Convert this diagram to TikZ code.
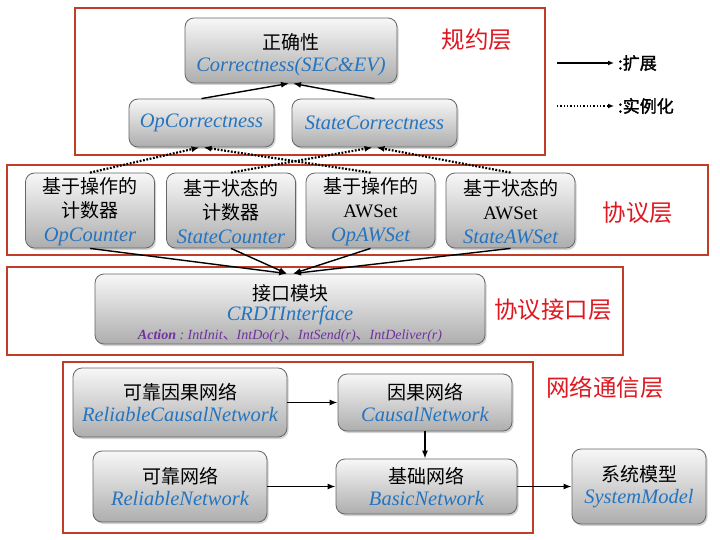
\documentclass[tikz,border=0pt]{standalone}
\usepackage{fontspec}
\setmainfont{Liberation Serif}
\newfontfamily\cjk{Noto Sans CJK SC}
\newfontfamily\cjkbold[FakeBold=1.6]{Noto Sans CJK SC}
\usepackage{xcolor}
\usetikzlibrary{positioning, calc, arrows.meta, shadows}
\definecolor{enblue}{RGB}{36,116,192}
\definecolor{actpurple}{RGB}{112,48,160}
\definecolor{layerred}{RGB}{192,62,40}
\definecolor{labelred}{RGB}{222,24,32}

\newcommand{\zh}[1]{{\cjk #1}}
\newcommand{\en}[1]{{\color{enblue}\fontsize{20.5}{24}\selectfont\itshape #1}}

\tikzset{
  box/.style={draw=black!60, line width=0.8pt, rounded corners=9pt,
    top color=black!3, bottom color=black!32,
    drop shadow={shadow xshift=1.5pt, shadow yshift=-2pt, opacity=0.35},
    align=center, inner sep=1pt, font=\fontsize{19}{24}\selectfont},
  layer/.style={draw=layerred, line width=1.6pt},
  layername/.style={text=labelred, font=\cjk\fontsize{23.5}{24}\selectfont},
  ext/.style={->, line width=1.4pt},
  inst/.style={->, line width=2.2pt, dash pattern=on 1.8pt off 1.6pt},
  legendtext/.style={right, inner sep=1pt, font=\cjkbold\fontsize{17}{18}\selectfont},
}

\begin{document}
\begin{tikzpicture}[x=1pt, y=-1pt, >={Latex[length=8pt, width=6pt]}]
\useasboundingbox (0,0) rectangle (720,540);

%% ── layer frames ─────────────────────────────────────────────────
\draw[layer] (75,8) rectangle (545,155);
\draw[layer] (7,165) rectangle (708,255);
\draw[layer] (7,267) rectangle (623,355);
\draw[layer] (63,362) rectangle (533,533);

\node[layername] (spec)  at (477,40)  {规约层};
\node[layername] (proto) at (638,213) {协议层};
\node[layername] (iface) at (553,310) {协议接口层};
\node[layername] (net)   at (605,388) {网络通信层};

%% ── specification layer ──────────────────────────────────────────
\node[box, minimum width=212pt, minimum height=65pt] (corr) at (291,50.5)
  {\rule{0pt}{25pt}\zh{正确性}\\[-2pt]\en{Correctness(SEC\&EV)}};
\node[box, minimum width=145pt, minimum height=48pt] (opcor) at (201.5,123) {\en{OpCorrectness}};
\node[box, minimum width=165pt, minimum height=48pt] (statecor) at (374.5,123) {\en{StateCorrectness}};

\draw[ext] (opcor.north) -- ([xshift=-2pt]corr.south);
\draw[ext] (statecor.north) -- ([xshift=2pt]corr.south);

%% ── legend ───────────────────────────────────────────────────────
\coordinate (lga) at (557,63);
\coordinate (lgb) at (614,63);
\coordinate (lgc) at (557,106);
\coordinate (lgd) at (614,106);
\draw[->, line width=1.3pt, >={Latex[length=6pt, width=5pt]}] (lga) -- (lgb);
\draw[->, line width=1.3pt, dotted, >={Latex[length=6pt, width=5pt]}] (lgc) -- (lgd);
\node[legendtext] (lgext)  at (lgb) {\,:扩展};
\node[legendtext] (lginst) at (lgd) {\,:实例化};

%% ── protocol layer ───────────────────────────────────────────────
\node[box, minimum width=129pt, minimum height=75pt] (opcnt) at (90,210.5)
  {\rule{0pt}{19pt}\zh{基于操作的}\\\zh{计数器}\\\en{OpCounter}};
\node[box, minimum width=129pt, minimum height=75pt] (statecnt) at (231,210.5)
  {\rule{0pt}{19pt}\zh{基于状态的}\\\zh{计数器}\\\en{StateCounter}};
\node[box, minimum width=129pt, minimum height=75pt] (opaws) at (370.5,210.5)
  {\rule{0pt}{19pt}\zh{基于操作的}\\AWSet\\\en{OpAWSet}};
\node[box, minimum width=129pt, minimum height=75pt] (stateaws) at (510.5,210.5)
  {\rule{0pt}{19pt}\zh{基于状态的}\\AWSet\\\en{StateAWSet}};

\draw[inst] (opcnt.north) -- ([xshift=-2pt]opcor.south);
\draw[inst] (opaws.north) -- ([xshift=2pt]opcor.south);
\draw[inst] (statecnt.north) -- ([xshift=-2pt]statecor.south);
\draw[inst] (stateaws.north) -- ([xshift=2pt]statecor.south);

%% ── interface layer ──────────────────────────────────────────────
\node[box, minimum width=390pt, minimum height=70pt] (crdt) at (290,309)
  {\rule{0pt}{24pt}\zh{接口模块}\\[-4pt]\en{CRDTInterface}\\[-5pt]
   {\color{actpurple}\fontsize{14}{16}\selectfont\itshape\textbf{Action}\ :\ IntInit\zh{、}IntDo(r)\zh{、}IntSend(r)\zh{、}IntDeliver(r)}};

\draw[ext] (opcnt.south) -- ([xshift=-3pt]crdt.north);
\draw[ext] (statecnt.south) -- ([xshift=-3pt]crdt.north);
\draw[ext] (opaws.south) -- ([xshift=3pt]crdt.north);
\draw[ext] (stateaws.south) -- ([xshift=3pt]crdt.north);

%% ── network layer ────────────────────────────────────────────────
\node[box, minimum width=214pt, minimum height=69pt] (rcn) at (180,402.5)
  {\zh{可靠因果网络}\\[-2pt]\en{ReliableCausalNetwork}};
\node[box, minimum width=174pt, minimum height=57pt] (cn) at (425,402.5)
  {\zh{因果网络}\\[-2pt]\en{CausalNetwork}};
\node[box, minimum width=174pt, minimum height=71pt] (rn) at (180,486.5)
  {\zh{可靠网络}\\[-2pt]\en{ReliableNetwork}};
\node[box, minimum width=181pt, minimum height=55pt] (bn) at (426.5,486.5)
  {\zh{基础网络}\\[-2pt]\en{BasicNetwork}};
\node[box, minimum width=134pt, minimum height=75pt] (sm) at (639,486.5)
  {\zh{系统模型}\\[-2pt]\en{SystemModel}};

\draw[ext] (rcn.east) -- (cn.west);
\draw[ext] (cn.south) -- (cn.south |- bn.north);
\draw[ext] (rn.east) -- (bn.west);
\draw[ext] (bn.east) -- (sm.west);

\end{tikzpicture}
\end{document}
